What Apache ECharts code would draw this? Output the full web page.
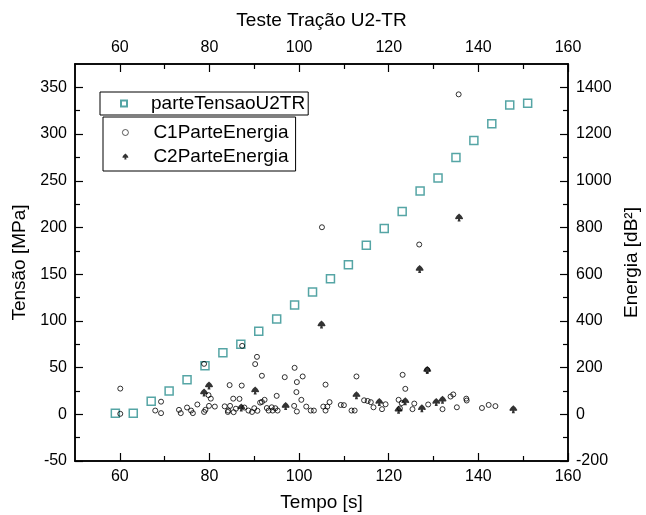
<!DOCTYPE html>
<html>
<head>
<meta charset="utf-8">
<script src="https://cdn.jsdelivr.net/npm/echarts@6/dist/echarts.min.js"></script>
<style>html,body{margin:0;padding:0;background:#fff}#c{width:646px;height:515px}</style>
</head>
<body>
<div id="c"></div>
<script>
// ---- data ----
var tensaoTempo = [59,63,67,71,75,79,83,87,91,95,99,103,107,111,115,119,123,127,131,135,139,143,147,151];
var tensaoValores = [1,1,14,25,37,52,66,75,89,102,117,131,145,160,181,199,217,239,253,275,293,311,331,333];

var c1Tempo = [60.1,60.1,67.9,69.2,69.2,73.2,73.6,75.0,75.9,76.3,77.3,78.8,78.8,79.1,79.8,79.9,80.3,81.2,83.4,84.5,84.1,84.2,84.6,85.3,85.4,85.9,86.7,87.2,87.3,87.8,88.7,89.5,90.0,90.2,90.6,90.7,91.3,91.7,91.7,92.3,92.8,93.2,93.9,94.1,94.7,95.0,95.2,96.8,98.9,99.0,99.4,99.5,99.5,100.5,100.8,101.6,102.6,103.3,105.1,105.4,105.9,105.9,106.3,106.8,109.3,110.0,111.7,112.4,112.8,114.5,115.3,116.0,116.6,118.5,119.3,122.2,122.5,122.9,123.1,123.7,125.3,125.7,126.8,128.6,128.8,132.0,133.8,134.4,135.2,135.6,137.3,137.4,140.8,142.3,143.8];
var c1Energia = [2,110,16,54,5,19,5,29,16,5,42,216,10,19,82,36,67,33,34,125,10,16,36,67,9,24,66,123,293,29,16,10,26,215,246,15,50,53,165,62,27,16,30,16,26,79,16,159,36,199,95,138,12,62,162,33,16,16,801,33,127,16,33,52,40,39,16,16,162,60,57,52,30,22,43,62,25,48,169,109,22,46,727,190,42,22,76,85,30,1370,67,59,27,40,35];

var c2Tempo = [78.8,79.9,87.1,90.2,97.0,105.0,112.8,117.9,122.2,123.7,126.9,127.4,128.6,130.6,132.0,135.7,147.8];
var c2Energia = [93,123,29,102,35,384,82,53,19,56,622,26,190,53,62,843,22];

var xLabels = [60,80,100,120,140,160];
var xMinor = [70,90,110,130,150];
var yLeftLabels = [-50,0,50,100,150,200,250,300,350];
var yLeftMinor = [-25,25,75,125,175,225,275,325];
var yRightLabels = [-200,0,200,400,600,800,1000,1200,1400];
var yRightMinor = [-100,100,300,500,700,900,1100,1300];

function zip(a,b){var r=[];for(var i=0;i<a.length;i++)r.push([a[i],b[i]]);return r;}

var FONT = '"Liberation Sans", Arial, sans-serif';
var lineStyle = {color:'#000', width:1.5};
var clubPath = 'path://M5,0 C6.6,1.4 9,3.6 10,6.2 C10,7.2 8.8,7.4 6.2,7 L6.9,10 L3.1,10 L3.8,7 C1.2,7.4 0,7.2 0,6.2 C1,3.6 3.4,1.4 5,0 Z';

function plain(v){ return String(v); }

function xAxis(pos, major, name, gap){
  return {
    type:'value', position:pos, min:50, max:160, interval:10,
    splitLine:{show:false},
    axisLine:{show:true, onZero:false, lineStyle:lineStyle},
    axisTick:{show:true, inside:true, length: major?8:5, customValues: major?xLabels:xMinor, lineStyle:{color:'#000',width:1.2}},
    axisLabel:{show:major, customValues:xLabels, formatter:plain, fontSize:16, color:'#000', fontFamily:FONT, margin:8},
    name: name||'', nameLocation:'middle', nameGap: gap||0,
    nameTextStyle:{fontSize:19, color:'#000', fontFamily:FONT}
  };
}
function yAxis(pos, min, max, labels, minor, major, name, gap){
  return {
    type:'value', position:pos, min:min, max:max,
    splitLine:{show:false},
    axisLine:{show:true, onZero:false, lineStyle:lineStyle},
    axisTick:{show:true, inside:true, length: major?8:5, customValues: major?labels:minor, lineStyle:{color:'#000',width:1.2}},
    axisLabel:{show:major, customValues:labels, formatter:plain, fontSize:16, color:'#000', fontFamily:FONT, margin:8},
    name: name||'', nameLocation:'middle', nameRotate:90, nameGap: gap||0,
    nameTextStyle:{fontSize:19, color:'#000', fontFamily:FONT}
  };
}

var chart = echarts.init(document.getElementById('c'), null, {renderer:'canvas'});
chart.setOption({
  animation:false,
  backgroundColor:'#fff',
  textStyle:{fontFamily:FONT},
  grid:{left:75, right:78, top:64, bottom:54, containLabel:false, outerBoundsMode:'none'},
  xAxis:[
    xAxis('bottom', true, 'Tempo [s]', 32),
    xAxis('bottom', false),
    xAxis('top', true, 'Teste Tração U2-TR', 34),
    xAxis('top', false)
  ],
  yAxis:[
    yAxis('left', -50, 375, yLeftLabels, yLeftMinor, true, 'Tensão [MPa]', 32),
    yAxis('left', -50, 375, yLeftLabels, yLeftMinor, false),
    yAxis('right', -200, 1500, yRightLabels, yRightMinor, true, 'Energia [dB²]', 54),
    yAxis('right', -200, 1500, yRightLabels, yRightMinor, false)
  ],
  legend:[
    {
      data:['parteTensaoU2TR'], orient:'vertical', left:100, top:92,
      padding:[2,3,2,20], itemWidth:6, itemHeight:6, itemGap:5,
      borderColor:'#000', borderWidth:1, selectedMode:false,
      textStyle:{fontSize:19, color:'#000', fontFamily:FONT, padding:[0,0,0,19]}
    },
    {
      data:['C1ParteEnergia','C2ParteEnergia'], orient:'vertical', left:103, top:117,
      padding:[6,7,5,19], itemWidth:6, itemHeight:7, itemGap:5,
      borderColor:'#000', borderWidth:1, selectedMode:false,
      itemStyle:{borderWidth:0.8},
      textStyle:{fontSize:19, color:'#000', fontFamily:FONT, padding:[0,0,0,20]}
    }
  ],
  series:[
    {
      name:'parteTensaoU2TR', type:'scatter', xAxisIndex:0, yAxisIndex:0,
      symbol:'rect', symbolSize:8,
      itemStyle:{color:'rgba(255,255,255,0)', borderColor:'#2a8f8f', borderWidth:1.5},
      data: zip(tensaoTempo, tensaoValores)
    },
    {
      name:'C1ParteEnergia', type:'scatter', xAxisIndex:0, yAxisIndex:2,
      symbol:'circle', symbolSize:5,
      itemStyle:{color:'rgba(255,255,255,0)', borderColor:'#000', borderWidth:1},
      data: zip(c1Tempo, c1Energia)
    },
    {
      name:'C2ParteEnergia', type:'scatter', xAxisIndex:0, yAxisIndex:2,
      symbol:clubPath, symbolSize:[8,8],
      itemStyle:{color:'#000'},
      data: zip(c2Tempo, c2Energia)
    }
  ]
});
</script>
</body>
</html>
